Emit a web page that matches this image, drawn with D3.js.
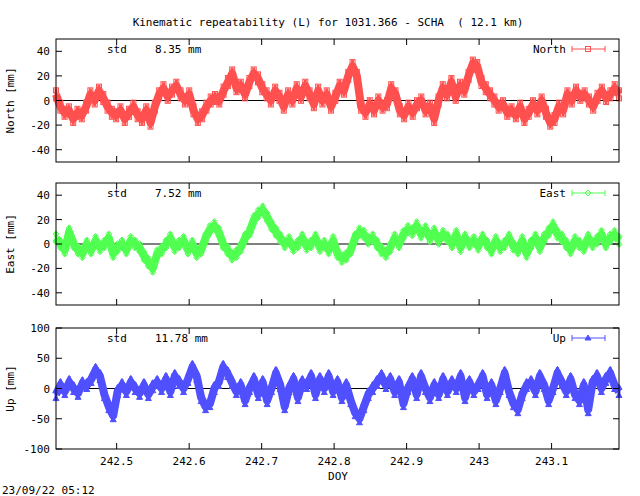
<!DOCTYPE html>
<html><head><meta charset="utf-8">
<script src="https://cdn.jsdelivr.net/npm/d3@7"></script>
<style>body{margin:0;background:#fff}svg{display:block}text{font-family:"DejaVu Sans Mono",monospace;font-size:11px;white-space:pre}</style>
</head><body><svg id="c" width="640" height="496"></svg>
<script>
const title = "Kinematic repeatability (L) for 1031.366 - SCHA  ( 12.1 km)";
const xDomain = [242.4163, 243.193];
const xTicks = [242.5, 242.6, 242.7, 242.8, 242.9, 243, 243.1];
const northValues = [5,-5,-10,-8,-15,-10,-12, -5,5,0,8,2, -5,-10,-12,-8,-15,-10,-5,-12,-15,-8,-18, -5,5,10,3,8,12,5,0,5, -8,-15,-12,-5,0, 2,0,8,15,22, 10,12,5, 15,22,18,10, 5,0,8,3,-5,5,0,10,3, 12,5,-3,8,0,5,-5, 3,12,8,20,28,20, -5,-10,-3,-8,0,-5,-3,10,5, -8,-12,-5,-10,-3,0,-8,-5,-15,0, 10,5,15,3,12,8, 20,30,28,15, 10,5,0,-5,-3, -10,-8,-12,-5,-15,-10,-3,-8,0, -10,-18,-15,-5,-8, 5,0,8,3,5,0,-5,3,8,2,5,10,5];
const eastValues = [5,0,-5,10,0,-5,-8, 0,-5,3,-3,0,5,-8,-3,0, -5,3,0,-3,-10,-15,-20,-8,-5, 0,5,-3,0,3,-5,0,-8,-5, 5,12,15,10,0, -5,-10,-8,-3,5, 10,20,25,28,22,15,10, 5,0,3,-3,0,5,-2,0,5,-3, 0,-5,3,-8,-12,-10,-5, 5,10,8,3,5,0,-5, -8,-3,5,0,8, 12,10,15,8,12,5,10,3,8, 5,0,8,-3,5,0,3,-2,5, 0,-5,3,-3,0,5,-2,-5,3,-8,0,5,-3, 5,10,15,8,5, 0,-5,3,0,-3,5,0,3,8,0,5,8,3];
const upValues = [-10,5,-5,10,0,-8,8, 5,15,30,20,-10,-30,-45,-5, 5,-5,10,0,-8,5,-10,3,10, 0,15,-5,20,10,0,15, 35,20,-15,-30, -25,0,10,35,25, 10,-5,5,-20,0,15, -10,10,-20,0,25,5,-30,0,15,-15,10, 5,20,-10,15,0,20,-5,10,-15,5, -20,-40,-50,-30,-10,0, 10,20,5,15,-5,10,-25,0,15,-10, 20,0,-15,5,-10,15,-5,10,0,20,-15, 10,-5,5,20,-10,5, -20,0,25,-5,-25,-35,-10,5, 10,-5,20,5,-20,0,25,10, -5,15,-10,-20,5,-35,10,20,0,15,25,5,-5];
const panels = [
 {name:"North", ylab:"North [mm]", std:"8.35 mm", vals:northValues, dom:[-50,50], ticks:[-40,-20,0,20,40], color:"#ff5050", sym:"square", top:39, bot:162},
 {name:"East", ylab:"East [mm]", std:"7.52 mm", vals:eastValues, dom:[-50,50], ticks:[-40,-20,0,20,40], color:"#50ff50", sym:"diamond", top:183, bot:305},
 {name:"Up", ylab:"Up [mm]", std:"11.78 mm", vals:upValues, dom:[-100,100], ticks:[-100,-50,0,50,100], color:"#5050ff", sym:"triangle", top:328, bot:449}
];
const svg = d3.select("#c");
const L=56,R=619;
const x = d3.scaleLinear().domain(xDomain).range([L,R]);
svg.append("text").attr("x",328).attr("y",26).attr("text-anchor","middle").text(title);
function sym(g,type,cx,cy,c){
  if(type==="square") g.append("rect").attr("x",cx-2.5).attr("y",cy-2.5).attr("width",5).attr("height",5).attr("fill","none").attr("stroke",c);
  else if(type==="diamond") g.append("path").attr("d",`M${cx},${cy-3}L${cx+3},${cy}L${cx},${cy+3}L${cx-3},${cy}Z`).attr("fill","none").attr("stroke",c);
  else g.append("path").attr("d",`M${cx},${cy-3}L${cx+3},${cy+2}L${cx-3},${cy+2}Z`).attr("fill",c).attr("stroke",c);
}
panels.forEach(p=>{
  const y = d3.scaleLinear().domain(p.dom).range([p.bot,p.top]);
  const g = svg.append("g");
  g.append("line").attr("x1",L).attr("x2",R).attr("y1",y(0)).attr("y2",y(0)).attr("stroke","#000");
  const n=p.vals.length;
  const xs = d3.scaleLinear().domain([0,n-1]).range(xDomain);
  const pts = p.vals.map((v,i)=>[x(xs(i)),y(v)]);
  g.append("path").attr("d",d3.line()(pts)).attr("fill","none").attr("stroke",p.color).attr("stroke-width",8).attr("stroke-linejoin","round");
  pts.forEach(([cx,cy])=>{
    g.append("line").attr("x1",cx).attr("x2",cx).attr("y1",cy-6).attr("y2",cy+6).attr("stroke",p.color).attr("stroke-width",3);
    sym(g,p.sym,cx,cy-4,p.color);
    sym(g,p.sym,cx,cy+4,p.color);
  });
  g.append("rect").attr("x",L).attr("y",p.top).attr("width",R-L).attr("height",p.bot-p.top).attr("fill","none").attr("stroke","#000");
  p.ticks.forEach(t=>{
    g.append("line").attr("x1",L).attr("x2",L+6).attr("y1",y(t)).attr("y2",y(t)).attr("stroke","#000");
    g.append("line").attr("x1",R-6).attr("x2",R).attr("y1",y(t)).attr("y2",y(t)).attr("stroke","#000");
    g.append("text").attr("x",L-6).attr("y",y(t)+4).attr("text-anchor","end").text(t);
  });
  xTicks.forEach(t=>{
    g.append("line").attr("x1",x(t)).attr("x2",x(t)).attr("y1",p.bot).attr("y2",p.bot-6).attr("stroke","#000");
    g.append("line").attr("x1",x(t)).attr("x2",x(t)).attr("y1",p.top).attr("y2",p.top+6).attr("stroke","#000");
  });
  g.append("text").attr("transform",`translate(14,${(p.top+p.bot)/2}) rotate(-90)`).attr("text-anchor","middle").text(p.ylab);
  g.append("text").attr("x",107).attr("y",p.top+14).text("std");
  g.append("text").attr("x",155).attr("y",p.top+14).text(p.std);
  const ly=p.top+10;
  g.append("text").attr("x",566).attr("y",ly+4).attr("text-anchor","end").text(p.name);
  g.append("line").attr("x1",572).attr("x2",605).attr("y1",ly).attr("y2",ly).attr("stroke",p.color);
  [572,605].forEach(xx=>g.append("line").attr("x1",xx).attr("x2",xx).attr("y1",ly-3).attr("y2",ly+3).attr("stroke",p.color));
  sym(g,p.sym,588,ly,p.color);
  if(p.name==="Up"){
    xTicks.forEach(t=>g.append("text").attr("x",x(t)).attr("y",p.bot+16).attr("text-anchor","middle").text(t));
  }
});
svg.append("text").attr("x",338).attr("y",480).attr("text-anchor","middle").text("DOY");
svg.append("text").attr("x",2).attr("y",494).text("23/09/22 05:12");
</script></body></html>
